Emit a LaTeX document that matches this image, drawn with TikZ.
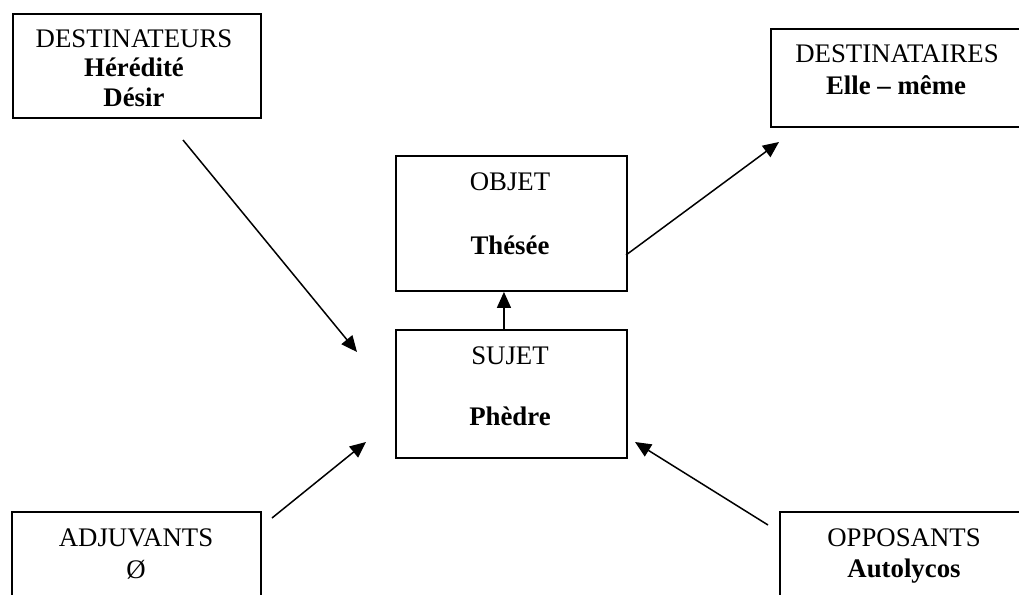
\documentclass[tikz,border=0pt]{standalone}
\usepackage{fontspec}
\setmainfont{Liberation Serif}
\usetikzlibrary{arrows.meta}
\tikzset{
  x=1pt, y=-1pt,
  boxshape/.style={draw, line width=1.9pt, rectangle, anchor=north west, inner sep=0pt},
  lab/.style={anchor=base, inner sep=0pt, font=\fontsize{26.8}{30}\selectfont},
  labb/.style={lab, font=\fontsize{26.8}{30}\selectfont\bfseries},
  arr/.style={line width=1.5pt, -{Triangle[length=16pt,width=14pt]}}
}
\begin{document}
\begin{tikzpicture}
\useasboundingbox (0,0) rectangle (1019,594);
\clip (0,0) rectangle (1019,594);
% boxes
\node[boxshape, minimum width=248pt, minimum height=104pt] (destBox) at (12,13) {};
\node[boxshape, minimum width=270pt, minimum height=98pt] (destaBox) at (770,28) {};
\node[boxshape, minimum width=231pt, minimum height=135pt] (objetBox) at (395,155) {};
\node[boxshape, minimum width=231pt, minimum height=128pt] (sujetBox) at (395,329) {};
\node[boxshape, minimum width=249pt, minimum height=120pt] (adjBox) at (11,511) {};
\node[boxshape, minimum width=270pt, minimum height=120pt] (oppBox) at (779,511) {};
% texts
\node[lab]  (destT1) at (134,48) {DESTINATEURS};
\node[labb] (destT2) at (134,77) {Hérédité};
\node[labb] (destT3) at (134,106) {Désir};
\node[lab]  (destaT1) at (897,63) {DESTINATAIRES};
\node[labb] (destaT2) at (896,94) {Elle -- même};
\node[lab]  (objetT1) at (510,190) {OBJET};
\node[labb] (objetT2) at (510,254) {Thésée};
\node[lab]  (sujetT1) at (510,364) {SUJET};
\node[labb] (sujetT2) at (510,425) {Phèdre};
\node[lab]  (adjT1) at (136,546) {ADJUVANTS};
\node[lab]  (adjT2) at (136,578) {Ø};
\node[lab]  (oppT1) at (904,546) {OPPOSANTS};
\node[labb] (oppT2) at (904,577) {Autolycos};
% connector ends
\coordinate (a1s) at (183,140);
\coordinate (a1e) at (357,352);
\coordinate (a2s) at (626,255);
\coordinate (a2e) at (779,142);
\coordinate (a4s) at (272,518);
\coordinate (a4e) at (366,442);
\coordinate (a5s) at (768,525);
\coordinate (a5e) at (635,442);
% connectors
\draw[arr] (a1s) -- (a1e);
\draw[arr] (a2s) -- (a2e);
\draw[arr] ([xshift=-7.5pt]sujetBox.north) -- ([xshift=-7.5pt]objetBox.south);
\draw[arr] (a4s) -- (a4e);
\draw[arr] (a5s) -- (a5e);
\end{tikzpicture}
\end{document}
